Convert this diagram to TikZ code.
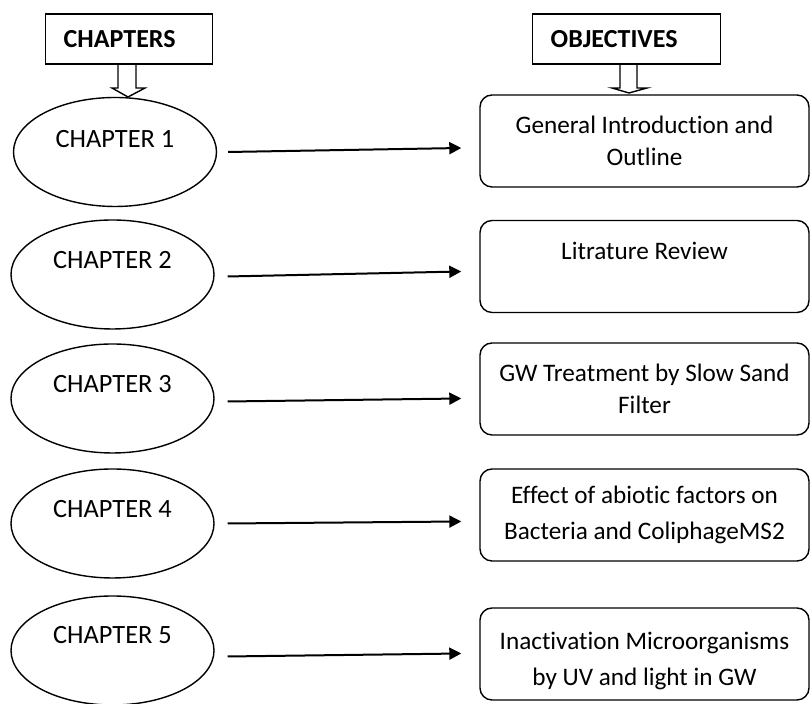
\documentclass[tikz,border=0pt]{standalone}
\usepackage{fontspec}
\setmainfont{Carlito}[Ligatures=NoCommon]
\usetikzlibrary{shapes.geometric, arrows.meta}

\begin{document}
\begin{tikzpicture}[x=0.5pt, y=-0.5pt, line width=0.7pt,
    font=\fontsize{12.6}{16}\selectfont,
    headbox/.style={draw, rectangle, minimum height=25pt, inner xsep=9pt, align=left, font=\fontsize{13}{16}\selectfont\bfseries},
    chapnode/.style={draw, ellipse, minimum width=101.5pt, minimum height=54.5pt, inner sep=0pt},
    objbox/.style={draw, rounded corners=6pt, minimum width=164.5pt, minimum height=46pt, text width=160pt, align=flush center, inner sep=0pt},
    linkarrow/.style={line width=1pt, -{Triangle[length=6pt, width=6pt]}}]
    \useasboundingbox (0,0) rectangle (811,704);

    % headers
    \node[headbox, text width=65.5pt, anchor=west] (chapters) at (45,39) {CHAPTERS};
    \node[headbox, text width=76pt, anchor=west] (objectives) at (532,39) {OBJECTIVES};

    \draw (118,64) -- (118,88) -- (112,88) -- (128,97) -- (145,88) -- (136,88) -- (136,64);
    \draw (620,64) -- (620,88) -- (612,88) -- (629,93) -- (647,88) -- (637,88) -- (637,64);

    % chapters
    \tikzset{every label/.style={font=\fontsize{13.2}{16}\selectfont}}
    \node[chapnode, label={[yshift=6.5pt]center:CHAPTER 1}] (e1) at (115,152) {};
    \node[chapnode, label={[yshift=7pt]center:CHAPTER 2}] (e2) at (112.5,274.5) {};
    \node[chapnode, label={[yshift=7pt]center:CHAPTER 3}] (e3) at (112.5,398.5) {};
    \node[chapnode, label={[yshift=7pt]center:CHAPTER 4}] (e4) at (112.5,523.5) {};
    \node[chapnode, label={[yshift=7.5pt]center:CHAPTER 5}] (e5) at (112.5,650.5) {};

    % objectives
    \node[objbox] (o1) at (644.5,141) {General Introduction and\\Outline};
    \node[objbox] (o2) at (644.5,266.5) {Litrature Review\\\mbox{}};
    \node[objbox] (o3) at (644.5,389) {GW Treatment by Slow Sand\\Filter};
    \node[objbox] (o4) at (644.5,515) {Effect of abiotic factors on\\[2pt]Bacteria and ColiphageMS2};
    \node[objbox] (o5) at (644.5,654) {\rule{0pt}{16pt}Inactivation Microorganisms\\[2pt]by UV and light in GW};

    \draw[linkarrow] ([xshift=5.5pt]e1.east) -- ([xshift=-9pt, yshift=2pt]e1.east -| o1.west);
    \draw[linkarrow] ([xshift=6.5pt, yshift=-1pt]e2.east) -- ([xshift=-9pt, yshift=1.5pt]e2.east -| o2.west);
    \draw[linkarrow] ([xshift=6.5pt, yshift=-1.5pt]e3.east) -- ([xshift=-9pt]e3.east -| o3.west);
    \draw[linkarrow] ([xshift=6.5pt]e4.east) -- ([xshift=-9pt, yshift=1pt]e4.east -| o4.west);
    \draw[linkarrow] ([xshift=6.5pt, yshift=-3pt]e5.east) -- ([xshift=-9pt, yshift=-1.5pt]e5.east -| o5.west);
\end{tikzpicture}
\end{document}
